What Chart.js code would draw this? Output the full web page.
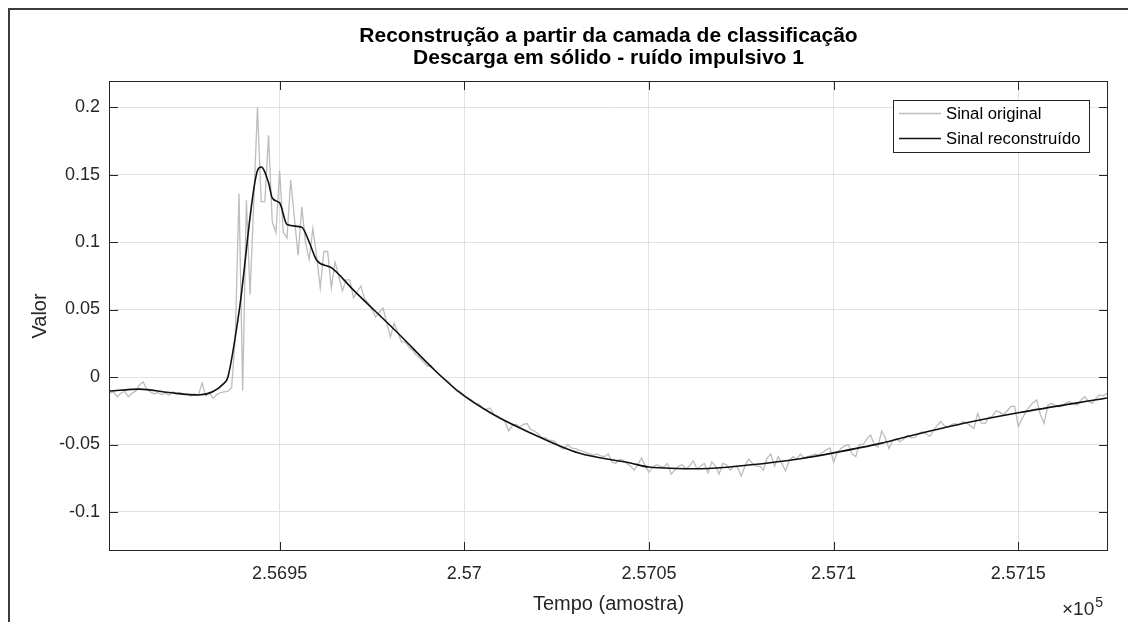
<!DOCTYPE html>
<html>
<head>
<meta charset="utf-8">
<script src="https://cdn.jsdelivr.net/npm/chart.js@4"></script>
<style>
  html, body { margin: 0; padding: 0; background: #fff; }
  #wrap { width: 1128px; height: 622px; }
</style>
</head>
<body>
<div id="wrap"><canvas id="sinalChart" width="1128" height="622"></canvas></div>
<script>
const titleLines = ['Reconstrução a partir da camada de classificação', 'Descarga em sólido - ruído impulsivo 1'];
const seriesNames = ['Sinal original', 'Sinal reconstruído'];

// original signal, one value per sample starting at sampleStart
const sampleStart = 256904;
const originalValues = [
  -0.012, -0.011, -0.0146, -0.012, -0.0105, -0.0146, -0.012, -0.0105, -0.006, -0.0035,
  -0.009, -0.011, -0.0125, -0.0115, -0.013, -0.012, -0.0135, -0.011, -0.0125, -0.0115,
  -0.013, -0.0125, -0.014, -0.0125, -0.0135, -0.0045, -0.014, -0.012, -0.0158, -0.013,
  -0.0115, -0.011, -0.0105, -0.008, 0.03, 0.136, -0.01, 0.131, 0.061, 0.13,
  0.2, 0.13, 0.13, 0.179, 0.115, 0.107, 0.153, 0.107, 0.103, 0.146,
  0.118, 0.09, 0.126, 0.1, 0.087, 0.11, 0.09, 0.066, 0.093, 0.093,
  0.066, 0.085, 0.075, 0.064, 0.072, 0.072, 0.0585, 0.063, 0.0674, 0.058,
  0.0548, 0.05, 0.0444, 0.048, 0.051, 0.04, 0.0296, 0.04, 0.033, 0.026,
  0.026, 0.022, 0.02, 0.016, 0.014, 0.011, 0.008, 0.0085, 0.005, 0.002,
  0.0, -0.002, -0.004, -0.0075, -0.0105, -0.011, -0.014, -0.0155, -0.017, -0.0195,
  -0.02, -0.023, -0.024, -0.023, -0.028, -0.029, -0.031, -0.033, -0.04, -0.036,
  -0.035, -0.037, -0.035, -0.0345, -0.039, -0.04, -0.042, -0.045, -0.045, -0.047,
  -0.047, -0.049, -0.052, -0.0535, -0.05, -0.0525, -0.053, -0.054, -0.055, -0.056,
  -0.057, -0.058, -0.057, -0.0585, -0.059, -0.057, -0.063, -0.064, -0.061, -0.0615,
  -0.064, -0.066, -0.069, -0.065, -0.06, -0.066, -0.0704, -0.067, -0.065, -0.066,
  -0.067, -0.064, -0.072, -0.069, -0.066, -0.065, -0.068, -0.066, -0.062, -0.068,
  -0.066, -0.064, -0.071, -0.063, -0.066, -0.0718, -0.064, -0.065, -0.069, -0.066,
  -0.067, -0.0733, -0.066, -0.0607, -0.064, -0.066, -0.066, -0.069, -0.06, -0.057,
  -0.066, -0.059, -0.064, -0.0696, -0.062, -0.059, -0.061, -0.057, -0.06, -0.059,
  -0.058, -0.057, -0.058, -0.056, -0.054, -0.0526, -0.063, -0.056, -0.053, -0.051,
  -0.05, -0.057, -0.059, -0.05, -0.05, -0.046, -0.043, -0.05, -0.052, -0.04,
  -0.045, -0.053, -0.047, -0.046, -0.048, -0.046, -0.043, -0.045, -0.0447, -0.042,
  -0.0405, -0.042, -0.044, -0.04, -0.036, -0.033, -0.036, -0.037, -0.035, -0.0345,
  -0.0356, -0.033, -0.034, -0.036, -0.038, -0.027, -0.034, -0.0345, -0.03, -0.029,
  -0.025, -0.026, -0.028, -0.025, -0.022, -0.0215, -0.0368, -0.031, -0.026, -0.022,
  -0.019, -0.017, -0.028, -0.0343, -0.021, -0.0195, -0.021, -0.022, -0.0215, -0.019,
  -0.0183, -0.02, -0.0207, -0.017, -0.0146, -0.018, -0.0195, -0.016, -0.0133, -0.014,
  -0.0121
];

// reconstructed signal (smooth), read at its corners
const reconSamples = [
  256904, 256912, 256920, 256928, 256935, 256936, 256939, 256944, 256945, 256947,
  256948, 256950, 256952, 256956, 256958, 256960, 256964, 256970, 256982, 256992,
  256999, 257008, 257018, 257031, 257045, 257050, 257064, 257077, 257091, 257100,
  257113, 257118, 257135, 257150, 257174
];
const reconValues = [
  -0.0104, -0.009, -0.0115, -0.0133, -0.0045, 0.0, 0.048, 0.153, 0.1556, 0.144,
  0.1326, 0.129, 0.113, 0.111, 0.1, 0.0867, 0.081, 0.0644, 0.0326, 0.005,
  -0.012, -0.028, -0.0415, -0.0563, -0.0637, -0.0667, -0.068, -0.0652, -0.0605, -0.0562,
  -0.049, -0.0455, -0.0345, -0.0265, -0.0156
];

const xTickValues = [256950, 257000, 257050, 257100, 257150];
const xTickLabels = ['2.5695', '2.57', '2.5705', '2.571', '2.5715'];
const yTickValues = [-0.1, -0.05, 0, 0.05, 0.1, 0.15, 0.2];
const yTickLabels = ['-0.1', '-0.05', '0', '0.05', '0.1', '0.15', '0.2'];

const FONT = '"Liberation Sans", Arial, Helvetica, sans-serif';
const INK = '#262626';

const originalPoints = originalValues.map((v, i) => ({ x: sampleStart + i, y: v }));
const reconPoints = reconSamples.map((s, i) => ({ x: s, y: reconValues[i] }));

const decor = {
  id: 'decor',
  beforeDraw(chart) {
    const ctx = chart.ctx;
    ctx.save();
    ctx.fillStyle = '#fff';
    ctx.fillRect(0, 0, chart.width, chart.height);
    ctx.restore();
  },
  afterDraw(chart) {
    const { ctx, chartArea: a, scales } = chart;
    ctx.save();

    // axes box
    ctx.strokeStyle = INK;
    ctx.lineWidth = 1;
    ctx.strokeRect(a.left + 0.5, a.top + 0.5, a.right - a.left - 1, a.bottom - a.top - 1);

    // inward tick marks on all four sides
    ctx.beginPath();
    xTickValues.forEach(v => {
      const px = Math.round(scales.x.getPixelForValue(v)) + 0.5;
      ctx.moveTo(px, a.bottom); ctx.lineTo(px, a.bottom - 9);
      ctx.moveTo(px, a.top); ctx.lineTo(px, a.top + 9);
    });
    yTickValues.forEach(v => {
      const py = Math.round(scales.y.getPixelForValue(v)) + 0.5;
      ctx.moveTo(a.left, py); ctx.lineTo(a.left + 9, py);
      ctx.moveTo(a.right, py); ctx.lineTo(a.right - 9, py);
    });
    ctx.stroke();

    // title
    ctx.fillStyle = '#000';
    ctx.font = 'bold 21px ' + FONT;
    ctx.textAlign = 'center';
    ctx.textBaseline = 'alphabetic';
    const cx = (a.left + a.right) / 2;
    ctx.fillText(titleLines[0], cx, 42);
    ctx.fillText(titleLines[1], cx, 64);

    // x10^5 exponent
    ctx.fillStyle = INK;
    ctx.textAlign = 'left';
    ctx.font = '19px ' + FONT;
    const base = '\u00d710';
    ctx.fillText(base, 1062, 615);
    const bw = ctx.measureText(base).width;
    ctx.font = '14px ' + FONT;
    ctx.fillText('5', 1062 + bw + 1, 607);

    // legend
    const lx = 893, ly = 100, lw = 196, lh = 52;
    ctx.fillStyle = '#fff';
    ctx.fillRect(lx, ly, lw, lh);
    ctx.strokeStyle = INK;
    ctx.lineWidth = 1;
    ctx.strokeRect(lx + 0.5, ly + 0.5, lw, lh);
    const rows = [113, 138];
    chart.data.datasets.forEach((ds, i) => {
      ctx.strokeStyle = ds.borderColor;
      ctx.lineWidth = ds.borderWidth;
      ctx.beginPath();
      ctx.moveTo(899, rows[i] + 0.5);
      ctx.lineTo(941, rows[i] + 0.5);
      ctx.stroke();
      ctx.fillStyle = '#000';
      ctx.font = '16.7px ' + FONT;
      ctx.textBaseline = 'middle';
      ctx.fillText(ds.label, 946, rows[i] + 1);
    });

    // figure frame (left and top)
    ctx.strokeStyle = '#3c3c3c';
    ctx.lineWidth = 2;
    ctx.beginPath();
    ctx.moveTo(9, 622); ctx.lineTo(9, 9); ctx.lineTo(1128, 9);
    ctx.stroke();

    ctx.restore();
  }
};

const ctx = document.getElementById('sinalChart').getContext('2d');
const chart = new Chart(ctx, {
  type: 'line',
  data: {
    datasets: [{
      label: seriesNames[0],
      data: originalPoints,
      borderColor: '#bdbdbd',
      borderWidth: 1.3,
      pointRadius: 0,
      tension: 0,
      order: 1
    }, {
      label: seriesNames[1],
      data: reconPoints,
      borderColor: '#111111',
      borderWidth: 1.6,
      pointRadius: 0,
      cubicInterpolationMode: 'monotone',
      order: 0
    }]
  },
  options: {
    responsive: false,
    animation: false,
    layout: { padding: { left: 0, top: 81, right: 20, bottom: 0 } },
    plugins: {
      legend: { display: false },
      tooltip: { enabled: false }
    },
    scales: {
      x: {
        type: 'linear',
        min: 256903.8,
        max: 257174.3,
        afterFit(scale) { scale.height = 71; },
        afterBuildTicks(scale) { scale.ticks = xTickValues.map(v => ({ value: v })); },
        ticks: {
          autoSkip: false,
          maxRotation: 0,
          padding: 12,
          color: INK,
          font: { family: FONT, size: 18 },
          callback: v => xTickLabels[xTickValues.indexOf(v)]
        },
        grid: { color: '#e2e2e2', drawTicks: false },
        border: { display: false },
        title: {
          display: true,
          text: 'Tempo (amostra)',
          color: INK,
          font: { family: FONT, size: 20 },
          padding: { top: 0, bottom: 6 }
        }
      },
      y: {
        min: -0.1289,
        max: 0.2193,
        afterFit(scale) { scale.width = 109; },
        afterBuildTicks(scale) { scale.ticks = yTickValues.map(v => ({ value: v })); },
        ticks: {
          padding: 9,
          color: INK,
          font: { family: FONT, size: 18 },
          callback: v => yTickLabels[yTickValues.indexOf(v)]
        },
        grid: { color: '#e2e2e2', drawTicks: false },
        border: { display: false },
        title: {
          display: true,
          text: 'Valor',
          color: INK,
          font: { family: FONT, size: 20 },
          padding: { top: 28, bottom: 0 }
        }
      }
    }
  },
  plugins: [decor]
});
</script>
</body>
</html>
